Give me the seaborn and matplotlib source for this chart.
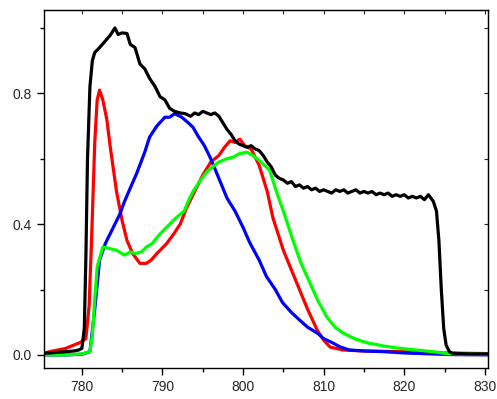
import numpy as np
import pandas as pd
import seaborn as sns
import matplotlib.pyplot as plt
from matplotlib.ticker import MultipleLocator

# --- data ---
black_x = [775.3, 776, 777, 778, 779, 779.6, 780, 780.3, 780.5, 780.7, 781, 781.3, 781.6, 782.2,
           782.9, 783.5, 784.1, 784.5, 785, 785.6, 786, 786.6, 787.2, 787.8, 788.4, 789.1,
           789.7, 790.3, 790.9, 791.5, 792.2, 792.8, 793.5, 794, 794.5, 795,
           795.5, 796, 796.5, 797, 797.5, 798, 798.5, 799, 799.5, 800, 800.5, 801, 801.5, 802,
           802.5, 803, 803.5, 804, 804.5, 805, 805.5, 806, 806.5, 807, 807.5, 808, 808.5, 809,
           809.5, 810, 810.5, 811, 811.5, 812, 812.5, 813, 813.5, 814, 814.5, 815, 815.5, 816,
           816.5, 817, 817.5, 818, 818.5, 819, 819.5, 820, 820.5, 821, 821.5, 822, 822.5, 823,
           823.3, 823.6, 824, 824.3, 824.6, 824.9, 825.2, 825.6, 826, 828, 830.5]
black_y = [0.005, 0.006, 0.008, 0.01, 0.012, 0.015, 0.02, 0.08, 0.3, 0.6, 0.82, 0.9, 0.925, 0.94,
           0.96, 0.977, 1.0, 0.98, 0.985, 0.983, 0.95, 0.94, 0.89, 0.875, 0.846, 0.82,
           0.79, 0.78, 0.754, 0.745, 0.74, 0.738, 0.73, 0.74, 0.735, 0.745,
           0.74, 0.735, 0.74, 0.73, 0.71, 0.69, 0.675, 0.655, 0.645, 0.64, 0.635, 0.64, 0.63, 0.625,
           0.61, 0.59, 0.575, 0.55, 0.54, 0.535, 0.525, 0.53, 0.515, 0.52, 0.51, 0.515, 0.505, 0.51,
           0.5, 0.505, 0.5, 0.495, 0.505, 0.5, 0.505, 0.495, 0.5, 0.505, 0.495, 0.5, 0.495, 0.5,
           0.49, 0.495, 0.49, 0.495, 0.485, 0.49, 0.485, 0.49, 0.48, 0.485, 0.48, 0.485, 0.475, 0.49,
           0.48, 0.47, 0.44, 0.35, 0.2, 0.08, 0.03, 0.01, 0.005, 0.003, 0.003]

red_x = [775.3, 776, 777, 778, 779, 779.8, 780.5, 780.9, 781.2, 781.6, 781.9, 782.2, 782.6, 783.1,
         783.5, 784.3, 785, 785.6, 786.3, 787.2, 788, 788.6, 789.3, 790.5, 791.4, 792.2, 793,
         794, 795, 796, 797, 797.7, 798.4, 799, 799.6, 800.2, 801, 802, 803, 803.7, 805, 806,
         807, 808, 809.2, 810, 810.8, 812.4, 815, 820, 825, 830.5]
red_y = [0.005, 0.01, 0.015, 0.02, 0.03, 0.038, 0.05, 0.15, 0.35, 0.65, 0.78, 0.81, 0.78, 0.72,
         0.64, 0.5, 0.41, 0.35, 0.31, 0.28, 0.28, 0.29, 0.31, 0.34, 0.37, 0.4, 0.45,
         0.5, 0.55, 0.59, 0.61, 0.635, 0.655, 0.65, 0.66, 0.64, 0.63, 0.58, 0.5, 0.42, 0.32, 0.26,
         0.2, 0.14, 0.076, 0.045, 0.024, 0.015, 0.012, 0.01, 0.006, 0.004]

blue_x = [775.3, 778, 780, 781, 781.6, 782.2, 782.9, 783.5, 784.1, 784.7, 785.3, 786,
          786.8, 787.8, 788.4, 789.3, 790.3, 790.9, 791.5, 792.4, 793.2, 793.8, 794.4,
          795.2, 795.9, 796.5, 797.1, 798, 799, 800, 800.8, 802, 802.9, 804, 804.9, 806, 807,
          808, 809.2, 810, 811.1, 812, 813.2, 815, 817.4, 820, 823.5, 826, 830.5]
blue_y = [0.0, 0.0, 0.002, 0.01, 0.14, 0.29, 0.34, 0.37, 0.40, 0.43, 0.47, 0.51,
          0.555, 0.62, 0.666, 0.70, 0.727, 0.727, 0.738, 0.727, 0.71, 0.696, 0.67,
          0.64, 0.605, 0.57, 0.534, 0.48, 0.44, 0.39, 0.345, 0.29, 0.24, 0.2, 0.16, 0.13, 0.107,
          0.085, 0.067, 0.05, 0.037, 0.025, 0.015, 0.012, 0.01, 0.006, 0.003, 0.001, 0.0]

green_x = [775.3, 778, 780, 781, 781.3, 781.6, 781.9, 782.6, 783.2, 784.3, 785.3, 786,
           786.6, 787.4, 788, 788.7, 789.7, 790.3, 790.9, 791.5, 792.2, 792.7, 793.2, 793.8, 794.6,
           795.5, 796.2, 797, 798, 798.8, 799.5, 800.5, 801.2, 802, 803.3, 804.2, 805, 806.2, 807.2,
           808.3, 809.3, 810.4, 811.4, 812.4, 814, 815.4, 817.5, 819.5, 821.5, 823.5, 825, 827, 830.5]
green_y = [0.0, 0.0, 0.003, 0.01, 0.06, 0.17, 0.27, 0.33, 0.327, 0.32, 0.305, 0.315,
           0.31, 0.315, 0.33, 0.34, 0.37, 0.385, 0.40, 0.415, 0.43, 0.44, 0.47, 0.50, 0.53,
           0.56, 0.575, 0.59, 0.60, 0.605, 0.615, 0.62, 0.61, 0.595, 0.565, 0.495, 0.44, 0.35, 0.28,
           0.22, 0.165, 0.116, 0.085, 0.067, 0.048, 0.037, 0.027, 0.02, 0.015, 0.01, 0.005, 0.003, 0.002]

series = {"red": (red_x, red_y), "blue": (blue_x, blue_y),
          "green": (green_x, green_y), "black": (black_x, black_y)}
df = pd.concat([pd.DataFrame({"x": x, "y": y, "s": k}) for k, (x, y) in series.items()])

sns.set_style("ticks")
plt.rcParams["font.family"] = ["Liberation Sans", "DejaVu Sans"]

fig = plt.figure(figsize=(4.97, 3.99), dpi=100)
ax = fig.add_axes([0.0885, 0.0777, 0.8935, 0.8973])
sns.lineplot(data=df, x="x", y="y", hue="s", sort=False, estimator=None,
             palette={"red": "#ff0000", "blue": "#0000ff", "green": "#00ff00", "black": "#000000"},
             linewidth=2.3, legend=False, ax=ax)

ax.set_xlim(775.3, 830.4)
ax.set_ylim(-0.04, 1.055)
ax.set_xlabel("")
ax.set_ylabel("")
ax.xaxis.set_major_locator(MultipleLocator(10))
ax.xaxis.set_minor_locator(MultipleLocator(5))
ax.yaxis.set_major_locator(MultipleLocator(0.4))
ax.yaxis.set_minor_locator(MultipleLocator(0.2))
ax.yaxis.set_major_formatter(plt.FuncFormatter(lambda v, p: f"{v:.1f}"))
ax.tick_params(which="major", length=5, width=1, labelsize=10, color="black")
ax.tick_params(which="minor", length=3, width=1, color="black")
for s in ax.spines.values():
    s.set_linewidth(1)
    s.set_color("black")

# inward ticks on top and right
top = ax.secondary_xaxis("top")
top.xaxis.set_major_locator(MultipleLocator(5))
top.tick_params(direction="in", length=3, labeltop=False)
right = ax.secondary_yaxis("right")
right.yaxis.set_major_locator(MultipleLocator(0.2))
right.tick_params(direction="in", length=3, labelright=False)

fig.savefig("out.png", dpi=100)
